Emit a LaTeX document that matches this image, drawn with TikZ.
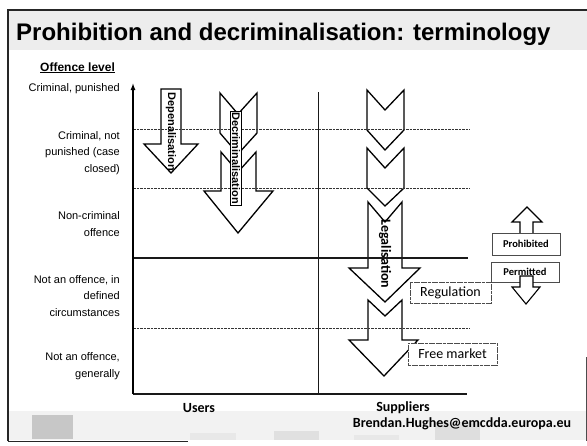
\documentclass[tikz,border=0pt]{standalone}
\usepackage{fontspec}
\setmainfont{Liberation Sans}
\newfontfamily\calfont{Carlito}
\usetikzlibrary{arrows.meta}
\begin{document}
\begin{tikzpicture}[x=1pt,y=-1pt,
  lbl/.style={font=\fontsize{11}{16.5}\selectfont, align=right, anchor=east, inner sep=0pt},
  blk/.style={draw=black, line width=1.3pt, fill=white, line join=miter},
  smallblk/.style={draw=black, line width=1.1pt, fill=white, line join=miter},
  dline/.style={draw=black!80, line width=0.7pt, dash pattern=on 2.5pt off 1pt},
  rottext/.style={rotate=-90, font=\bfseries\fontsize{11}{12}\selectfont, inner sep=1.2pt},
  calbox/.style={draw=black!70, line width=0.5pt, dash pattern=on 3pt off 0.6pt, fill=white, font=\calfont\fontsize{14}{15}\selectfont, inner sep=0pt},
  smbox/.style={draw=black!70, line width=0.6pt, fill=white, font=\calfont\bfseries\fontsize{10.5}{12}\selectfont, minimum width=68pt, inner sep=0pt},
  axislabel/.style={font=\calfont\bfseries\fontsize{14}{16}\selectfont, inner sep=0pt},
  ]
\useasboundingbox (0,0) rectangle (587,445);
% backgrounds
\fill[white] (0,0) rectangle (587,445);
\fill[black!7] (9,11) rectangle (587,50);
\fill[black!5] (9,411) rectangle (587,440);
\fill[black!22] (32,415) rectangle (73,439);
\fill[black!9] (190,433) rectangle (236,440);
\fill[black!12] (274,431) rectangle (319,440);
\fill[black!9] (354,435) rectangle (399,440);
\fill[black!13] (435,422) rectangle (480,440);
% frame
\draw[line width=1.6pt, black!85] (8,441) -- (8,10) -- (587,10);
\draw[line width=1pt, black!85] (8,441) -- (188,441);
\draw[line width=0.8pt, black!70] (586,357) -- (586,441);

% title
\node[anchor=base west, font=\bfseries\fontsize{24}{28}\selectfont, inner sep=0pt] (title) at (16,40) {Prohibition and decriminalisation: terminology};
\node[anchor=base west, font=\bfseries\fontsize{12}{14}\selectfont, inner sep=0pt] (offlevel) at (40,71) {\underline{Offence level}};

% level labels
\node[lbl] (l1) at (120,89) {Criminal, punished};
\node[lbl] (l2) at (120,153) {Criminal, not\\punished (case\\closed)};
\node[lbl] (l3) at (120,224) {Non-criminal\\offence};
\node[lbl] (l4) at (120,296) {Not an offence, in\\defined\\circumstances};
\node[lbl] (l5) at (120,366) {Not an offence,\\generally};

% coordinates of the chart
\coordinate (origin) at (133,394);
\coordinate (ytop) at (133,83);
\coordinate (xend) at (467,394);
\coordinate (divtop) at (318,92);
\coordinate (divbot) at (318,394);

% block arrows: Depenalisation
\draw[blk] (161,89) -- (181,89) -- (181,144) -- (198,144) -- (171,173) -- (144,144) -- (161,144) -- cycle;
% Decriminalisation
\draw[blk] (220,93) -- (238,114) -- (257,93) -- (257,133) -- (238,154) -- (220,133) -- cycle;
\draw[blk] (221,152) -- (238,172) -- (256,152) -- (256,191) -- (273,191) -- (238,233) -- (204,191) -- (221,191) -- cycle;
% Legalisation
\draw[blk] (367,90) -- (385,110) -- (404,90) -- (404,130) -- (385,150) -- (367,130) -- cycle;
\draw[blk] (367,148) -- (385,168) -- (404,148) -- (404,188) -- (385,206) -- (367,188) -- cycle;
\draw[blk] (368,202) -- (385,222) -- (402,202) -- (402,268) -- (420,268) -- (385,302) -- (349,268) -- (368,268) -- cycle;
\draw[blk] (368,300) -- (385,316) -- (402,300) -- (402,340) -- (418,340) -- (384,376) -- (349,340) -- (368,340) -- cycle;

% level lines
\draw[dline] (133,129) -- (470,129);
\draw[dline] (133,188) -- (470,188);
\draw[dline] (133,328) -- (470,328);
\draw[line width=2pt, black!90] (133,258) -- (468,258);
\draw[line width=1.6pt, black!90] (origin) -- (xend);
\draw[line width=1pt, black!90] (divtop) -- (divbot);
\draw[line width=1.3pt, -{Latex[length=7pt,width=5pt]}] (origin) -- (ytop);

% arrow labels
\node[rottext] (dep) at (171,132) {Depenalisation};
\node[rottext, draw, fill=white, line width=0.6pt] (dec) at (236,158) {Decriminalisation};
\node[rottext, font=\calfont\bfseries\fontsize{14}{15}\selectfont, inner sep=0pt] (leg) at (385,254) {Legalisation};

% regulation boxes
\node[calbox, minimum width=81pt, minimum height=21pt] (reg) at (450.5,292.5) {Regulation};
\node[calbox, minimum width=89pt, minimum height=22pt] (free) at (452.5,354) {Free market};

% prohibited / permitted
\draw[smallblk] (520,240) -- (520,222) -- (512,222) -- (527,207) -- (542,222) -- (533,222) -- (533,240) -- cycle;
\node[smbox, minimum height=22pt] (proh) at (526,244) {Prohibited};
\node[smbox, minimum height=20pt] (perm) at (525,272) {Permitted};
\draw[smallblk] (520,276) -- (533,276) -- (533,287) -- (540,287) -- (526,304) -- (512,287) -- (520,287) -- cycle;

% axis labels
\node[axislabel] (users) at (199,408) {Users};
\node[axislabel] (suppliers) at (403,408) {Suppliers};
\node[axislabel] (email) at (462,424) {Brendan.Hughes@emcdda.europa.eu};
\end{tikzpicture}
\end{document}
